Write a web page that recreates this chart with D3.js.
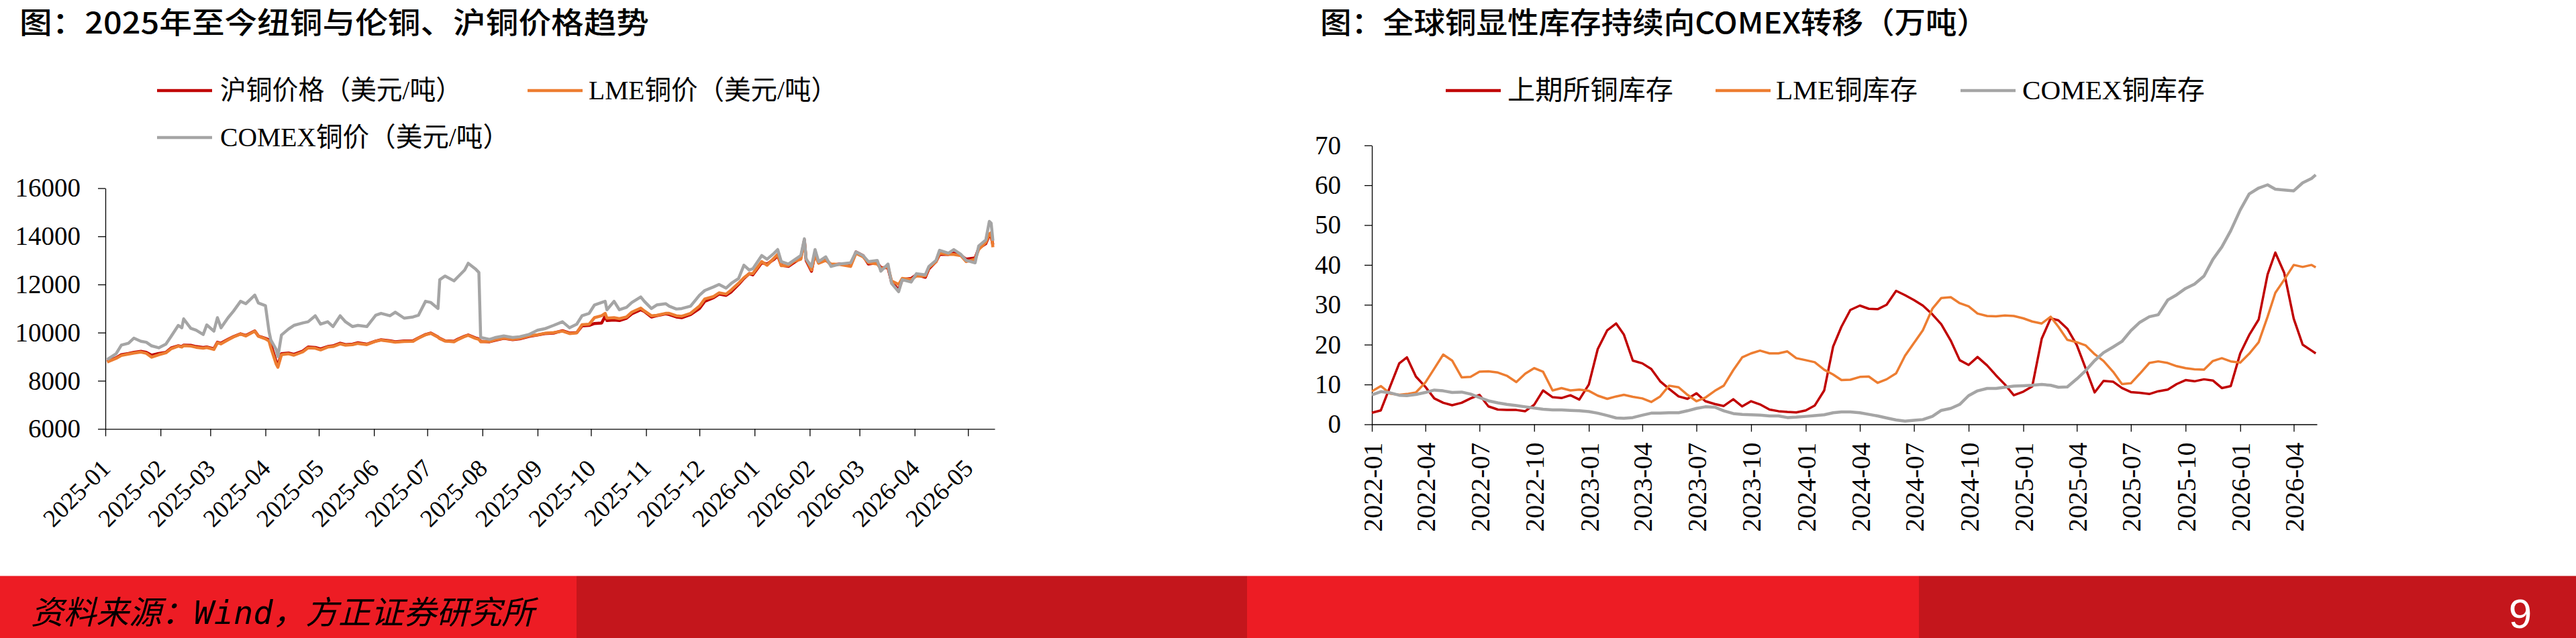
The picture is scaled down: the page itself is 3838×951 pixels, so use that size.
<!DOCTYPE html>
<html>
<head>
<meta charset="utf-8">
<script src="https://cdn.jsdelivr.net/npm/d3@7"></script>
<style>
  body { margin: 0; background: #fff; }
  svg { display: block; }
</style>
</head>
<body>
<svg width="3838" height="951"></svg>
<script>
// ---------- left chart data: copper prices (USD/t) ----------
const priceDates = [
  "2025-01-02","2025-01-07","2025-01-10","2025-01-14","2025-01-17","2025-01-21","2025-01-24","2025-01-27","2025-01-31",
  "2025-02-04","2025-02-07","2025-02-11","2025-02-13","2025-02-14","2025-02-18","2025-02-21","2025-02-25","2025-02-27",
  "2025-03-03","2025-03-05","2025-03-07","2025-03-11","2025-03-14","2025-03-18","2025-03-21","2025-03-26","2025-03-28",
  "2025-04-01","2025-04-03","2025-04-04","2025-04-07","2025-04-08","2025-04-10","2025-04-14","2025-04-17","2025-04-22","2025-04-25","2025-04-29",
  "2025-05-02","2025-05-06","2025-05-09","2025-05-13","2025-05-16","2025-05-20","2025-05-23","2025-05-28",
  "2025-06-02","2025-06-05","2025-06-10","2025-06-13","2025-06-18","2025-06-23","2025-06-26","2025-06-30",
  "2025-07-03","2025-07-07","2025-07-08","2025-07-11","2025-07-16","2025-07-18","2025-07-22","2025-07-24","2025-07-28","2025-07-30","2025-07-31",
  "2025-08-05","2025-08-08","2025-08-13","2025-08-18","2025-08-22","2025-08-27",
  "2025-09-01","2025-09-05","2025-09-10","2025-09-15","2025-09-19","2025-09-23","2025-09-26","2025-09-30",
  "2025-10-03","2025-10-07","2025-10-09","2025-10-10","2025-10-14","2025-10-17","2025-10-21","2025-10-24","2025-10-29","2025-10-31",
  "2025-11-04","2025-11-07","2025-11-12","2025-11-14","2025-11-18","2025-11-21","2025-11-26",
  "2025-12-01","2025-12-04","2025-12-09","2025-12-12","2025-12-16","2025-12-19","2025-12-23","2025-12-26","2025-12-29","2025-12-31",
  "2026-01-05","2026-01-08","2026-01-12","2026-01-14","2026-01-16","2026-01-20","2026-01-23","2026-01-27","2026-01-29","2026-01-30",
  "2026-02-02","2026-02-04","2026-02-06","2026-02-10","2026-02-13","2026-02-18","2026-02-24","2026-02-27",
  "2026-03-03","2026-03-06","2026-03-11","2026-03-13","2026-03-17","2026-03-19","2026-03-23","2026-03-25","2026-03-30",
  "2026-04-02","2026-04-07","2026-04-09","2026-04-13","2026-04-15","2026-04-20","2026-04-23","2026-04-27","2026-04-30",
  "2026-05-05","2026-05-07","2026-05-11","2026-05-13","2026-05-14","2026-05-15"
]
const shfePrice = [
  8800,8950,9080,9130,9180,9220,9180,9060,9130,
  9180,9360,9450,9420,9480,9470,9420,9380,9400,
  9330,9600,9560,9720,9830,9950,9880,10070,9860,
  9760,9700,9520,8800,8650,9120,9150,9100,9230,9400,9380,
  9320,9420,9450,9560,9500,9520,9580,9520,
  9650,9700,9660,9620,9650,9660,9780,9920,
  9980,9820,9760,9660,9640,9720,9850,9900,9780,9740,9640,
  9620,9680,9760,9710,9740,9840,
  9900,9960,9980,10080,9980,10000,10280,10300,
  10380,10400,10680,10500,10520,10500,10600,10780,10950,10880,
  10650,10700,10780,10750,10650,10620,10750,
  11000,11300,11450,11600,11550,11700,12000,12250,12450,12400,
  12900,12850,13050,13200,12800,12750,12900,13100,13850,13000,
  12550,13300,12900,13050,12800,12850,12800,13350,
  13200,12850,12900,12700,12700,12100,11780,12200,12250,
  12400,12300,12650,12950,13250,13250,13300,13200,13050,
  13100,13500,13700,14050,14000,13650
]
const lmePrice = [
  8780,8930,9050,9110,9150,9190,9140,8980,9080,
  9160,9330,9440,9400,9460,9440,9390,9350,9380,
  9300,9580,9530,9700,9820,9940,9860,10060,9850,
  9740,9650,9380,8700,8560,9080,9120,9060,9200,9370,9350,
  9280,9400,9420,9530,9480,9500,9550,9500,
  9640,9690,9640,9600,9630,9640,9770,9910,
  9970,9810,9750,9650,9620,9700,9840,9890,9760,9720,9620,
  9630,9700,9770,9720,9760,9860,
  9910,9970,10000,10060,9960,9990,10330,10350,
  10620,10700,10800,10600,10620,10580,10650,10850,11020,10900,
  10700,10720,10800,10800,10700,10680,10800,
  11100,11400,11500,11650,11600,11780,12050,12280,12450,12450,
  12950,12800,13100,13250,12780,12780,12950,13050,13800,13050,
  12600,13250,12880,13000,12850,12830,12750,13300,
  13150,12900,12850,12650,12750,12150,12000,12250,12200,
  12350,12350,12700,12950,13300,13250,13250,13200,12950,
  13050,13450,13750,14100,14150,13550
]
const comexPrice = [
  8880,9120,9480,9560,9770,9640,9600,9450,9370,
  9520,9850,10300,10200,10570,10180,10100,9920,10320,
  10060,10620,10200,10620,10890,11300,11200,11560,11230,
  11120,10050,9700,9300,9000,9900,10150,10300,10400,10450,10700,
  10350,10450,10250,10700,10450,10250,10300,10250,
  10720,10800,10700,10850,10600,10650,10720,11300,
  11250,11000,12200,12350,12150,12300,12600,12880,12650,12500,9800,
  9720,9790,9860,9800,9830,9920,
  10100,10160,10300,10450,10200,10350,10700,10800,
  11150,11250,11300,10950,11300,10950,11050,11250,11480,11300,
  11000,11150,11200,11100,10980,11000,11100,
  11550,11750,11900,12000,11850,12050,12250,12800,12600,12650,
  13200,13050,13300,13450,12950,12850,13000,13200,13900,13050,
  12750,13450,12950,13150,12750,12850,12900,13350,
  13200,12950,13000,12550,12850,12050,11700,12200,12100,
  12450,12400,12750,13000,13420,13300,13450,13250,13000,
  12900,13600,13850,14620,14550,13820
]
const priceTicks = [6000, 8000, 10000, 12000, 14000, 16000]

// ---------- right chart data: visible copper stocks (10k t) ----------
const stockDates = [
  "2022-01-01","2022-01-16","2022-02-01","2022-02-16","2022-03-01","2022-03-16","2022-04-01","2022-04-16",
  "2022-05-01","2022-05-16","2022-06-01","2022-06-16","2022-07-01","2022-07-16","2022-08-01","2022-08-16",
  "2022-09-01","2022-09-16","2022-10-01","2022-10-16","2022-11-01","2022-11-16","2022-12-01","2022-12-16",
  "2023-01-01","2023-01-16","2023-02-01","2023-02-16","2023-03-01","2023-03-16","2023-04-01","2023-04-16",
  "2023-05-01","2023-05-16","2023-06-01","2023-06-16","2023-07-01","2023-07-16","2023-08-01","2023-08-16",
  "2023-09-01","2023-09-16","2023-10-01","2023-10-16","2023-11-01","2023-11-16","2023-12-01","2023-12-16",
  "2024-01-01","2024-01-16","2024-02-01","2024-02-16","2024-03-01","2024-03-16","2024-04-01","2024-04-16",
  "2024-05-01","2024-05-16","2024-06-01","2024-06-16","2024-07-01","2024-07-16","2024-08-01","2024-08-16",
  "2024-09-01","2024-09-16","2024-10-01","2024-10-16","2024-11-01","2024-11-16","2024-12-01","2024-12-16",
  "2025-01-01","2025-01-16","2025-02-01","2025-02-16","2025-03-01","2025-03-16","2025-04-01","2025-04-16",
  "2025-05-01","2025-05-16","2025-06-01","2025-06-16","2025-07-01","2025-07-16","2025-08-01","2025-08-16",
  "2025-09-01","2025-09-16","2025-10-01","2025-10-16","2025-11-01","2025-11-16","2025-12-01","2025-12-16",
  "2026-01-01","2026-01-16","2026-02-01","2026-02-16","2026-03-01","2026-03-16","2026-04-01","2026-04-16",
  "2026-05-01","2026-05-08"
]
const shfeStock = [
  2.9,3.5,9.6,15.3,16.8,12.0,9.4,6.5,5.4,4.8,5.4,6.5,7.4,4.5,3.7,3.6,3.6,3.3,4.9,8.5,6.8,6.6,7.3,6.2,
  10.0,18.9,23.6,25.3,22.5,16.0,15.3,13.9,10.8,8.9,7.0,6.4,7.8,5.8,5.1,4.6,6.3,4.5,5.8,5.0,3.7,3.3,3.1,3.0,
  3.5,4.7,8.5,19.5,24.5,28.7,29.8,29.0,28.9,30.0,33.5,32.4,31.2,29.8,27.6,25.1,21.0,16.1,14.9,16.9,14.8,12.3,10.0,7.3,
  8.2,9.5,21.5,26.6,26.1,24.0,19.9,14.0,8.0,10.9,10.7,9.1,8.1,7.9,7.6,8.3,8.7,10.1,11.1,10.8,11.3,11.0,9.1,9.6,
  17.8,22.4,26.3,37.6,43.1,38.0,26.5,20.0,18.5,17.8
]
const lmeStock = [
  8.3,9.6,7.7,7.4,7.6,8.0,10.5,14.0,17.5,16.0,11.8,11.9,13.2,13.3,13.0,12.2,10.6,12.7,14.1,13.2,8.5,9.1,8.5,8.7,
  8.4,7.2,6.4,7.0,7.4,6.9,6.5,5.6,7.0,9.7,9.3,7.4,5.8,6.7,8.4,9.7,13.6,16.8,17.8,18.5,17.8,17.8,18.3,16.6,
  16.1,15.6,13.7,12.5,11.1,11.2,11.9,12.0,10.4,11.3,12.8,17.2,20.4,23.6,29.0,31.7,31.9,30.4,29.6,27.8,27.2,27.1,27.3,27.2,
  26.6,25.8,25.3,27.0,24.5,21.2,20.6,19.8,17.6,15.9,13.2,10.1,10.3,12.7,15.4,15.8,15.4,14.6,14.1,13.8,13.7,15.9,16.6,15.8,
  15.5,17.7,20.6,27.0,33.0,36.3,40.0,39.5,40.0,39.4
]
const comexStock = [
  7.4,8.2,7.9,7.3,7.2,7.5,8.0,8.6,8.4,8.0,8.1,7.6,6.7,5.9,5.4,5.0,4.7,4.4,4.1,3.8,3.6,3.6,3.5,3.4,
  3.2,2.8,2.2,1.6,1.5,1.7,2.3,2.8,2.8,2.9,2.9,3.4,4.0,4.4,4.3,3.4,2.7,2.5,2.4,2.3,2.1,2.1,1.7,1.8,
  2.0,2.2,2.4,2.9,3.1,3.1,2.9,2.5,2.1,1.6,1.1,0.8,1.0,1.2,2.0,3.5,4.0,5.0,7.2,8.4,9.0,9.0,9.3,9.6,
  9.7,9.8,10.0,9.8,9.3,9.4,11.4,13.5,16.0,18.0,19.4,20.8,23.5,25.6,27.0,27.5,31.2,32.5,34.1,35.2,37.2,41.4,44.5,48.6,
  53.8,57.8,59.3,60.1,59.0,58.8,58.6,60.6,61.7,62.6
]
const stockTicks = [0, 10, 20, 30, 40, 50, 60, 70]

// ---------- setup ----------
const svg = d3.select("svg")
const parse = d3.timeParse("%Y-%m-%d")
const fmtMonth = d3.timeFormat("%Y-%m")
const red = "#C00000", orange = "#ED7D31", gray = "#A5A5A5"
const serif = "'Liberation Serif', 'Times New Roman', serif"
const cjk = "'Liberation Serif', 'Noto Sans CJK SC', sans-serif"

function zip(dates, values) {
  return dates.map((d, i) => ({date: parse(d), v: values[i]}))
}

function styleAxis(g, size) {
  g.attr("font-family", serif).attr("font-size", size).attr("color", "#000")
  g.select(".domain").attr("stroke-width", 1.3)
  g.selectAll(".tick line").attr("stroke-width", 1.3)
}

// ---------- footer band ----------
const band = [
  {x0: 0, x1: 859, c: "#ED1C24"},
  {x0: 859, x1: 1858, c: "#C4161C"},
  {x0: 1858, x1: 2859, c: "#ED1C24"},
  {x0: 2859, x1: 3838, c: "#C4161C"}
]
svg.selectAll("rect.band")
  .data(band)
  .join("rect")
  .attr("x", d => d.x0)
  .attr("y", 858.5)
  .attr("width", d => d.x1 - d.x0)
  .attr("height", 951 - 858.5)
  .attr("fill", d => d.c)

svg.append("text")
  .attr("x", 46).attr("y", 930)
  .attr("font-family", "'DejaVu Sans Mono', 'Noto Sans CJK SC', monospace")
  .attr("font-size", 48)
  .attr("font-style", "italic")
  .attr("textLength", 750)
  .attr("lengthAdjust", "spacingAndGlyphs")
  .attr("fill", "#000")
  .text("资料来源：Wind，方正证券研究所")

// page number
svg.append("text")
  .attr("x", 3755).attr("y", 936)
  .attr("text-anchor", "middle")
  .attr("font-family", "'Liberation Sans', Arial, sans-serif")
  .attr("font-size", 62)
  .attr("fill", "#fff")
  .text("9")

// ---------- left chart ----------
const x1 = d3.scaleTime()
  .domain([parse("2025-01-01"), parse("2026-05-16")])
  .range([157, 1482])
const y1 = d3.scaleLinear()
  .domain([6000, 16000])
  .range([639.3, 280.5])

svg.append("text")
  .attr("x", 29).attr("y", 50)
  .attr("font-family", "'Noto Sans CJK SC', sans-serif")
  .attr("font-weight", 500)
  .attr("font-size", 44)
  .attr("textLength", 938)
  .attr("lengthAdjust", "spacingAndGlyphs")
  .text("图：2025年至今纽铜与伦铜、沪铜价格趋势")

svg.append("g")
  .attr("transform", "translate(157,0)")
  .call(d3.axisLeft(y1).tickValues(priceTicks).tickSize(11).tickSizeOuter(0).tickPadding(26).tickFormat(d3.format("d")))
  .call(g => styleAxis(g, 39))

svg.append("g")
  .attr("transform", "translate(0,639.3)")
  .call(d3.axisBottom(x1).ticks(d3.timeMonth.every(1)).tickSize(11).tickSizeOuter(0).tickFormat(fmtMonth))
  .call(g => styleAxis(g, 37))
  .selectAll("text")
  .attr("x", 0).attr("y", 0).attr("dy", null)
  .attr("text-anchor", "end")
  .attr("transform", "translate(9,61) rotate(-45)")

const priceLine = d3.line().x(d => x1(d.date)).y(d => y1(d.v))
const priceSeries = [
  {name: "沪铜价格（美元/吨）", color: red, values: zip(priceDates, shfePrice), lx: 234, ly: 135, tx: 328, tw: 360},
  {name: "LME铜价（美元/吨）", color: orange, values: zip(priceDates, lmePrice), lx: 786, ly: 135, tx: 877, tw: 371},
  {name: "COMEX铜价（美元/吨）", color: gray, values: zip(priceDates, comexPrice), lx: 234, ly: 205, tx: 328, tw: 431}
]

svg.append("g")
  .selectAll("path")
  .data(priceSeries)
  .join("path")
  .attr("d", d => priceLine(d.values))
  .attr("fill", "none")
  .attr("stroke", d => d.color)
  .attr("stroke-width", 4.5)
  .attr("stroke-linejoin", "round")

// ---------- right chart ----------
const x2 = d3.scaleTime()
  .domain([parse("2022-01-01"), parse("2026-05-10")])
  .range([2044, 3452])
const y2 = d3.scaleLinear()
  .domain([0, 70])
  .range([632.5, 216.7])

svg.append("text")
  .attr("x", 1967).attr("y", 50)
  .attr("font-family", "'Noto Sans CJK SC', sans-serif")
  .attr("font-weight", 500)
  .attr("font-size", 44)
  .attr("textLength", 995)
  .attr("lengthAdjust", "spacingAndGlyphs")
  .text("图：全球铜显性库存持续向COMEX转移（万吨）")

svg.append("g")
  .attr("transform", "translate(2044,0)")
  .call(d3.axisLeft(y2).tickValues(stockTicks).tickSize(11).tickSizeOuter(0).tickPadding(35))
  .call(g => styleAxis(g, 39))

svg.append("g")
  .attr("transform", "translate(0,632.5)")
  .call(d3.axisBottom(x2).ticks(d3.timeMonth.every(3)).tickSize(11).tickSizeOuter(0).tickFormat(fmtMonth))
  .call(g => styleAxis(g, 40))
  .selectAll("text")
  .attr("x", 0).attr("y", 0).attr("dy", null)
  .attr("text-anchor", "end")
  .attr("transform", "translate(14,27) rotate(-90)")

const stockLine = d3.line().x(d => x2(d.date)).y(d => y2(d.v))
const stockSeries = [
  {name: "上期所铜库存", color: red, values: zip(stockDates, shfeStock), w: 3.5, lx: 2154, ly: 135, tx: 2246, tw: 247},
  {name: "LME铜库存", color: orange, values: zip(stockDates, lmeStock), w: 3.5, lx: 2556, ly: 135, tx: 2646, tw: 211},
  {name: "COMEX铜库存", color: gray, values: zip(stockDates, comexStock), w: 4.5, lx: 2921, ly: 135, tx: 3013, tw: 272}
]

svg.append("g")
  .selectAll("path")
  .data(stockSeries)
  .join("path")
  .attr("d", d => stockLine(d.values))
  .attr("fill", "none")
  .attr("stroke", d => d.color)
  .attr("stroke-width", d => d.w)
  .attr("stroke-linejoin", "round")

// ---------- legends ----------
const legendItems = priceSeries.concat(stockSeries)
svg.selectAll("line.legend")
  .data(legendItems)
  .join("line")
  .attr("x1", d => d.lx)
  .attr("x2", d => d.lx + 82)
  .attr("y1", d => d.ly)
  .attr("y2", d => d.ly)
  .attr("stroke", d => d.color)
  .attr("stroke-width", 4.5)

svg.selectAll("text.legend")
  .data(legendItems)
  .join("text")
  .attr("x", d => d.tx)
  .attr("y", d => d.ly + 13)
  .attr("font-family", cjk)
  .attr("font-size", 40)
  .attr("textLength", d => d.tw)
  .attr("lengthAdjust", "spacingAndGlyphs")
  .text(d => d.name)
</script>
</body>
</html>
